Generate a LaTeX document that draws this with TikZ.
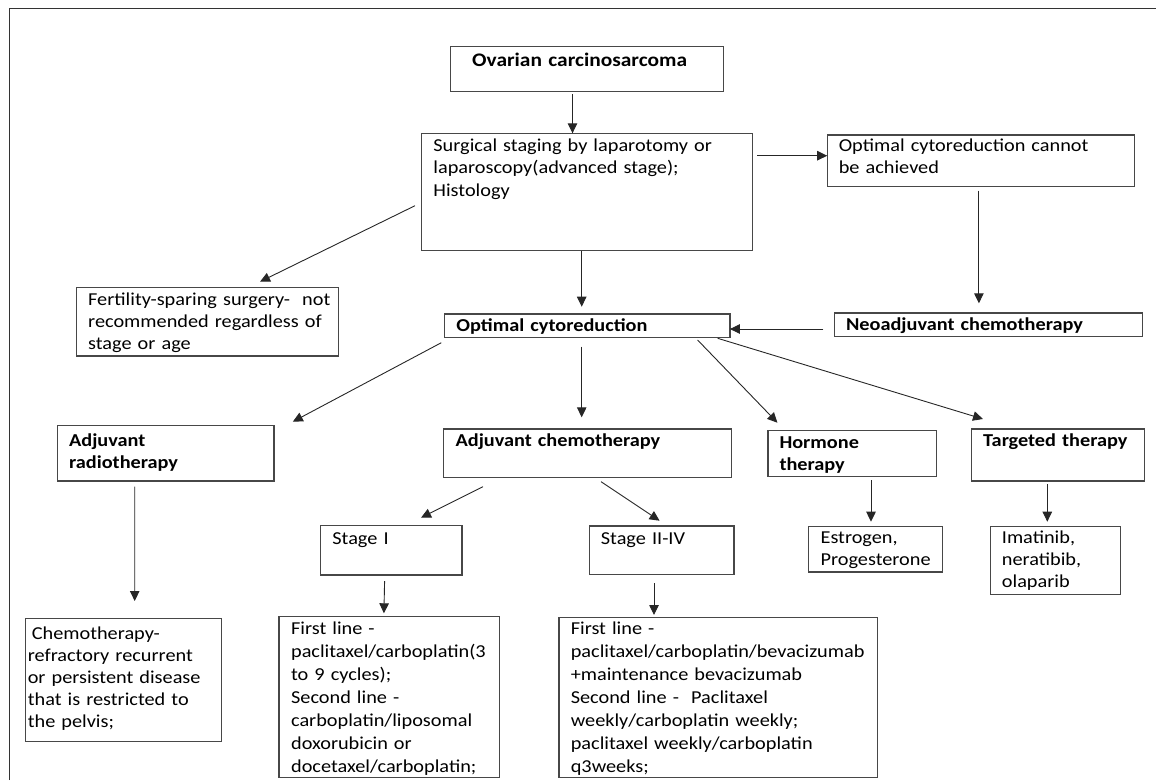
\documentclass[tikz,border=0pt]{standalone}
\usepackage{fontspec}
\setmainfont{Carlito}[FakeStretch=1.115]
\usetikzlibrary{arrows.meta,calc}
\tikzset{
  bx/.style={draw=black!72, line width=1.2pt, anchor=north west, inner sep=0pt, outer sep=0pt},
  tx/.style={anchor=base west, inner sep=0pt, text width=360pt, align=left, font=\fontsize{18.2}{22.2}\selectfont},
  tb/.style={tx, font=\fontsize{18.2}{22.2}\selectfont\bfseries},
  tl/.style={tx, font=\fontsize{18.2}{23.1}\selectfont},
  arr/.style={draw=black!85, line width=0.9pt, -{Triangle[length=10pt,width=9.5pt]}},
  frame/.style={draw=black!80, line width=1.2pt},
}
\newcommand\bxnode[5]{\node[bx, minimum width=#4pt-#2pt, minimum height=#5pt-#3pt] (#1) at (#2,#3) {};}
\begin{document}
\begin{tikzpicture}[x=1pt,y=-1pt]
\useasboundingbox (0,0) rectangle (1156,780);
\draw[frame] (9.6,780) -- (9.6,8.3) -- (1156,8.3);
% boxes
\bxnode{ovar}{450.8}{46.7}{723.4}{91.7}
\bxnode{surg}{421.7}{133.3}{752.7}{250.7}
\bxnode{cann}{827.2}{135}{1134.7}{186.7}
\bxnode{neo}{834.4}{313}{1142.7}{336.7}
\bxnode{opt}{444.7}{314}{729.9}{337.5}
\bxnode{fert}{76.5}{287.3}{338.7}{356}
\bxnode{radio}{57.4}{425.7}{274}{481}
\bxnode{adjc}{443.2}{429}{731.4}{477.3}
\bxnode{horm}{767.9}{430.7}{936.3}{476.7}
\bxnode{targ}{971.3}{429}{1144.2}{481}
\bxnode{stI}{320.7}{525.7}{461.9}{575}
\bxnode{stII}{589.2}{526}{734}{574.3}
\bxnode{estr}{808.2}{526.7}{942.4}{572}
\bxnode{imat}{990.1}{526.7}{1120.1}{594.3}
\bxnode{refr}{25.6}{618.3}{221.2}{741.7}
\bxnode{flI}{279}{616.7}{499.4}{777.3}
\bxnode{flII}{558.9}{617.7}{877.1}{777.3}
% texts
\node[tb, font=\fontsize{19.2}{23}\selectfont\bfseries] (ovarT) at (472,66.7) {Ovarian carcinosarcoma};
\node[tx] (surgT) at (433.2,151.7) {Surgical staging by laparotomy or\\laparoscopy(advanced stage);\\Histology};
\node[tx] (cannT) at (838.6,151.7) {Optimal cytoreduction cannot\\be achieved};
\node[tb] (neoT) at (845.8,330) {Neoadjuvant chemotherapy};
\node[tb] (optT) at (456.2,331.7) {Optimal cytoreduction};
\node[tx] (fertT) at (88,305) {Fertility-sparing surgery-\ \ not\\recommended regardless of\\stage or age};
\node[tb] (radioT) at (68.9,446.7) {Adjuvant\\radiotherapy};
\node[tb] (adjcT) at (455.4,446.7) {Adjuvant chemotherapy};
\node[tb] (hormT) at (779.3,448.3) {Hormone\\therapy};
\node[tb] (targT) at (983,446.7) {Targeted therapy};
\node[tx] (stIT) at (332.2,544) {Stage I};
\node[tx] (stIIT) at (600.7,544) {Stage II-IV};
\node[tx] (estrT) at (820.4,543.3) {Estrogen,\\Progesterone};
\node[tx] (imatT) at (1001.7,543.3) {Imatinib,\\neratibib,\\olaparib};
\node[tx] (refrT) at (27.6,639) {\hspace*{4pt}Chemotherapy-\\refractory recurrent\\or persistent disease\\that is restricted to\\the pelvis;};
\node[tl] (flIT) at (290.9,634) {First line -\\paclitaxel/carboplatin(3\\to 9 cycles);\\Second line -\\carboplatin/liposomal\\doxorubicin or\\docetaxel/carboplatin;};
\node[tl] (flIIT) at (570.6,634) {First line -\\paclitaxel/carboplatin/bevacizumab\\+maintenance bevacizumab\\Second line -\ \ Paclitaxel\\weekly/carboplatin weekly;\\paclitaxel weekly/carboplatin\\q3weeks;};
% arrows
\draw[arr] ($(ovar.north west)+(121.7,47.3)$) -- ($(surg.north west)+(150.8,0)$);
\draw[arr] ($(surg.north west)+(335.3,22.4)$) -- ($(cann.north west)+(0,20.7)$);
\draw[arr] ($(cann.north west)+(151.7,55.7)$) -- ($(neo.north west)+(144.5,-9.7)$);
\draw[arr] ($(neo.north west)+(-11,16)$) -- ($(opt.north west)+(285.2,15)$);
\draw[arr] ($(surg.north west)+(160,117.4)$) -- ($(opt.north west)+(137,-7.3)$);
\draw[arr] ($(surg.north west)+(-6.7,72.4)$) -- ($(fert.north west)+(183.5,-5.6)$);
\draw[arr] ($(opt.north west)+(-3.4,28.7)$) -- ($(radio.north west)+(235.4,-4)$);
\draw[arr] ($(opt.north west)+(137,32.7)$) -- ($(adjc.north west)+(138.5,-11.7)$);
\draw[arr] ($(opt.north west)+(252.9,26)$) -- ($(horm.north west)+(9.5,-8)$);
\draw[arr] ($(opt.north west)+(273,24.3)$) -- ($(targ.north west)+(11.7,-10)$);
\draw[arr] ($(adjc.north west)+(39.8,57.7)$) -- ($(stI.north west)+(100.3,-8)$);
\draw[arr] ($(adjc.north west)+(157.8,52.7)$) -- ($(stII.north west)+(70.4,-5.3)$);
\draw[arr] ($(horm.north west)+(103.1,49.3)$) -- ($(estr.north west)+(62.8,-5)$);
\draw[arr] ($(targ.north west)+(76,55.3)$) -- ($(imat.north west)+(57.2,-5)$);
\draw[arr] ($(radio.north west)+(77.3,61)$) -- ($(refr.north west)+(109.1,-17.3)$);
\draw[arr] ($(stI.north west)+(63.9,55.3)$) -- ($(flI.north west)+(104.9,-3.4)$);
\draw[arr] ($(stII.north west)+(64.8,57.3)$) -- ($(flII.north west)+(95.1,-2.7)$);
\end{tikzpicture}
\end{document}
